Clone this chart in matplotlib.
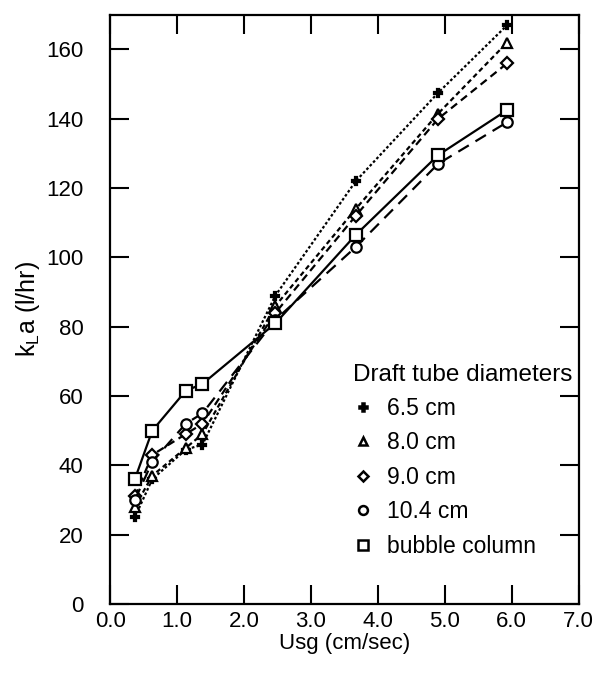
import matplotlib
matplotlib.use("Agg")
import matplotlib.pyplot as plt
from matplotlib.lines import Line2D

plt.rcParams['font.family'] = ['Liberation Sans', 'DejaVu Sans']

usg = [0.37, 0.63, 1.13, 1.38, 2.47, 3.67, 4.9, 5.93]
d65 = [25, 36, 44.5, 46, 89, 122, 147.5, 167]
d80 = [28, 37, 45, 49, 86, 114, 141.5, 162]
d90 = [31, 43, 49, 52, 84, 112, 140, 156]
d104 = [30, 41, 52, 55, 82, 103, 127, 139]
bubble = [36, 50, 61.5, 63.5, 81, 106.5, 129.5, 142.5]

labels = ["6.5 cm", "8.0 cm", "9.0 cm", "10.4 cm", "bubble column"]
series = [d65, d80, d90, d104, bubble]
markers = ["P", "^", "D", "o", "s"]
msizes = [6, 7, 6.5, 7.5, 8]
dashes = [(1.2, 1.0), (2.2, 1.5), (3.5, 2.2), (5.5, 3.5), None]

fig = plt.figure(figsize=(6.15, 6.74), dpi=100)
ax = fig.add_axes([0.179, 0.104, 0.762, 0.874])

handles = []
for y, lab, m, ms, d in zip(series, labels, markers, msizes, dashes):
    mfc = "black" if m == "P" else "white"
    line, = ax.plot(usg, y, color="black", lw=1.6, marker=m, ms=ms,
                    mfc=mfc, mec="black", mew=1.6)
    if d is not None:
        line.set_dashes(d)
    handles.append(Line2D([], [], color="black", linestyle="none", marker=m,
                          ms=ms * 0.85, mfc=mfc, mec="black", mew=1.8))

ax.set_xlim(0, 7)
ax.set_ylim(0, 170)
ax.set_xticks([0, 1, 2, 3, 4, 5, 6, 7])
ax.set_xticklabels(["0.0", "1.0", "2.0", "3.0", "4.0", "5.0", "6.0", "7.0"])
ax.set_yticks([0, 20, 40, 60, 80, 100, 120, 140, 160])
ax.tick_params(axis="both", direction="in", length=14, width=1.5,
               top=True, right=True, labelsize=16)
ax.tick_params(axis="x", pad=5)
ax.tick_params(axis="y", pad=19)
for s in ax.spines.values():
    s.set_linewidth(1.6)

ax.set_xlabel("Usg (cm/sec)", fontsize=16, labelpad=1)
ax.set_ylabel(r"k$_\mathregular{L}$a (l/hr)", fontsize=18, labelpad=3)

leg = ax.legend(handles, labels, title="Draft tube diameters", frameon=False,
                loc="upper left", bbox_to_anchor=(0.518, 0.408), fontsize=16.5,
                title_fontsize=17.5, handletextpad=0.6, labelspacing=0.5,
                handlelength=0.9, borderpad=0, borderaxespad=0)
leg._legend_box.align = "left"

fig.savefig("out.png", dpi=100)
